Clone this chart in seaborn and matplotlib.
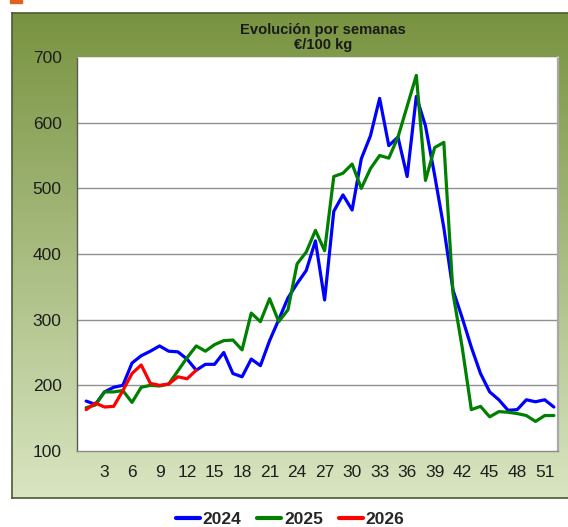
import numpy as np
import pandas as pd
import matplotlib
matplotlib.use("Agg")
import matplotlib.pyplot as plt
import seaborn as sns
from matplotlib.patches import Rectangle
from matplotlib.lines import Line2D

# ---------------- data ----------------
weeks_2024 = list(range(1, 53))
vals_2024 = [176, 171, 190, 197, 200, 234, 245, 252, 260, 252,
             251, 240, 223, 232, 232, 250, 218, 213, 240, 230,
             268, 300, 333, 355, 375, 420, 330, 465, 490, 467,
             545, 580, 637, 565, 578, 518, 640, 595, 520, 440,
             345, 303, 258, 218, 190, 178, 162, 163, 178, 175,
             178, 167]
weeks_2025 = list(range(1, 53))
vals_2025 = [166, 170, 190, 190, 192, 174, 197, 200, 199, 202,
             222, 242, 260, 252, 262, 268, 269, 254, 310, 297,
             332, 297, 315, 385, 403, 436, 405, 518, 523, 537,
             500, 530, 550, 546, 578, 625, 672, 512, 562, 570,
             340, 258, 163, 168, 152, 160, 159, 157, 154, 145,
             154, 154]
weeks_2026 = list(range(1, 14))
vals_2026 = [163, 173, 167, 168, 192, 218, 231, 203, 200, 202, 213, 210, 223]

years = ["2024", "2025", "2026"]
colors = {"2024": "#0000FF", "2025": "#008000", "2026": "#FF0000"}
x_ticks = list(range(3, 52, 3))
y_ticks = [100, 200, 300, 400, 500, 600, 700]
title_lines = ["Evolución por semanas", "€/100 kg"]

df = pd.concat([
    pd.DataFrame({"semana": weeks_2024, "valor": vals_2024, "año": "2024"}),
    pd.DataFrame({"semana": weeks_2025, "valor": vals_2025, "año": "2025"}),
    pd.DataFrame({"semana": weeks_2026, "valor": vals_2026, "año": "2026"}),
])

# ---------------- figure ----------------
sns.set_style("white")
plt.rcParams["font.family"] = ["Liberation Sans", "DejaVu Sans"]

W, H = 568, 527
fig = plt.figure(figsize=(W / 100, H / 100), dpi=100)

# outer frame with vertical gradient
fl, fb, ft = 12 / W, 1 - 498 / H, 1 - 13 / H
bg_ax = fig.add_axes([fl, fb, 1.02 - fl, ft - fb], zorder=0)
top_c = np.array([120, 147, 64]) / 255
bot_c = np.array([217, 229, 193]) / 255
t = np.linspace(0, 1, 256)[:, None]
grad = top_c[None, :] * (1 - t) + bot_c[None, :] * t
grad = np.repeat(grad[:, None, :], 4, axis=1)
bg_ax.imshow(grad, aspect="auto", extent=[0, 1, 0, 1])
bg_ax.set_xlim(0, 1)
bg_ax.set_ylim(0, 1)
bg_ax.set_xticks([])
bg_ax.set_yticks([])
for s in bg_ax.spines.values():
    s.set_color("#4a5a38")
    s.set_linewidth(1.2)

# small orange mark at top-left
fig.patches.append(Rectangle((10 / W, 1 - 3 / H), 12 / W, 3 / H,
                             transform=fig.transFigure, color="#E0601E",
                             zorder=5))

# plot area
L, R, B, T = 77 / W, 558 / W, 1 - 451 / H, 1 - 57 / H
ax = fig.add_axes([L, B, R - L, T - B], zorder=2)
ax.set_facecolor("white")

sns.lineplot(data=df, x="semana", y="valor", hue="año", palette=colors,
             hue_order=years, linewidth=2.3, ax=ax, legend=False,
             estimator=None, sort=True)
for ln in ax.lines:
    ln.set_solid_joinstyle("round")
    ln.set_solid_capstyle("round")

ax.set_xlim(0, 52.45)
ax.set_ylim(100, 700)
ax.set_xticks(x_ticks)
ax.set_xticks(range(1, 53), minor=True)
ax.set_yticks(y_ticks)
ax.set_yticks(range(150, 700, 100), minor=True)
ax.set_xlabel("")
ax.set_ylabel("")

for yv in y_ticks[1:-1]:
    ax.axhline(yv, color="#919191", linewidth=1.0, zorder=0)

ax.tick_params(axis="both", which="both", direction="in", color="#7f7f7f",
               labelsize=12.5, labelcolor="#1e1e1e")
ax.tick_params(axis="x", which="both", length=3.5, width=0.8, pad=10)
ax.tick_params(axis="y", which="both", length=3.5, width=0.8, pad=11)

ax.spines["left"].set_color("#5a5a5a")
ax.spines["bottom"].set_color("#8a8a8a")
ax.spines["right"].set_color("#a8a8a8")
ax.spines["top"].set_color("#d8d8d8")
ax.spines["left"].set_linewidth(1.0)
ax.spines["bottom"].set_linewidth(1.0)
ax.spines["right"].set_linewidth(1.6)
ax.spines["top"].set_linewidth(0.6)

# title
fig.text(323 / W, 1 - 30 / H, title_lines[0], ha="center", va="center",
         fontsize=10.6, fontweight="bold", color="#1a1a1a")
fig.text(323 / W, 1 - 45 / H, title_lines[1], ha="center", va="center",
         fontsize=10.6, fontweight="bold", color="#1a1a1a")

# legend
handles = [Line2D([0], [0], color=colors[y], linewidth=3) for y in years]
fig.legend(handles, years, loc="center", bbox_to_anchor=(290 / W, 1 - 519 / H),
           ncol=3, frameon=False, handlelength=1.4, handletextpad=0.15,
           columnspacing=0.9, prop={"weight": "bold", "size": 12.5})

fig.savefig("out.png", dpi=100)
